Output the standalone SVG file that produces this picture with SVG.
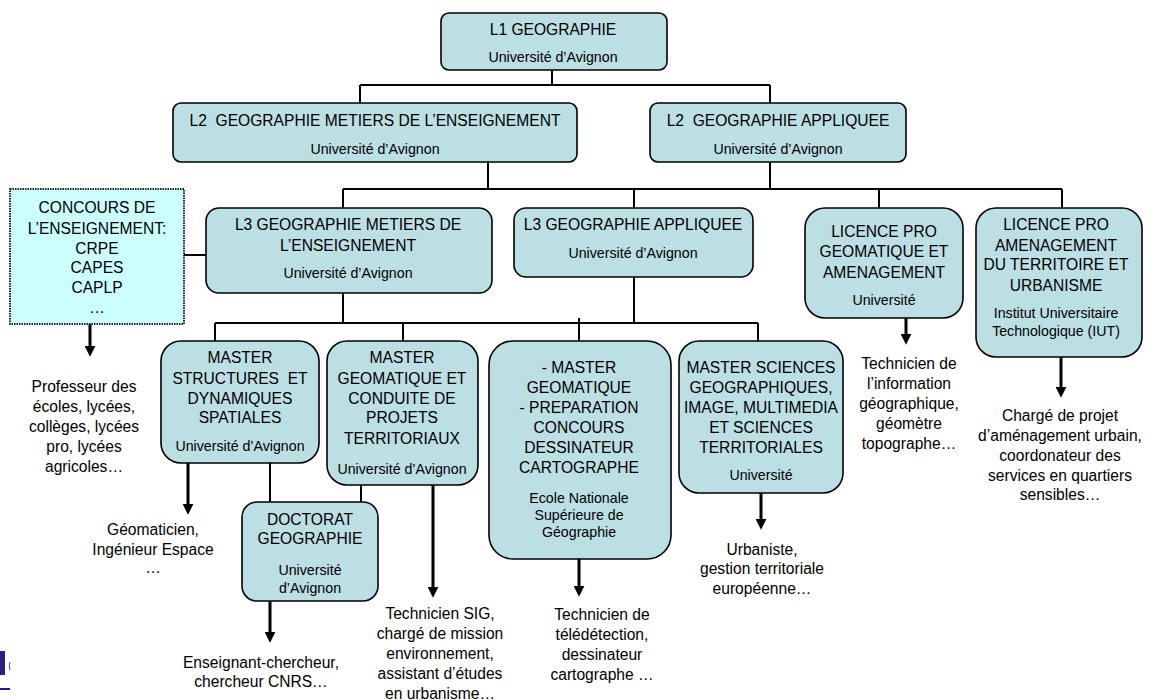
<svg xmlns="http://www.w3.org/2000/svg" width="1151" height="700" viewBox="0 0 1151 700">
<style>
.box{fill:#bbdfe3;stroke:#000;stroke-width:1.6}
.dot{fill:#ccffff;stroke:#222;stroke-width:2;stroke-dasharray:1.5 1}
text{font-family:"Liberation Sans",Arial,sans-serif;fill:#000;text-anchor:middle}
.t{font-size:15.6px}
.s{font-size:14.2px}
.c{fill:none;stroke:#000;stroke-width:2}
.a{fill:none;stroke:#000;stroke-width:3;marker-end:url(#ah)}
</style>
<defs>
<marker id="ah" viewBox="0 0 10 10" refX="2" refY="5" markerWidth="11" markerHeight="11" markerUnits="userSpaceOnUse" orient="auto">
<path d="M0,0 L10,5 L0,10 z" fill="#000"/>
</marker>
</defs>
<rect width="1151" height="700" fill="#fff"/>

<g id="connectors">
<path class="c" d="M552,70 V85 M360,85 H770 M360,85 V103 M770,85 V103"/>
<path class="c" d="M488,162 V189 M770,162 V189 M343,189 H1062 M343,189 V208 M634,189 V208 M879,189 V208 M1062,189 V208"/>
<path class="c" d="M184,255 H206"/>
<path class="c" d="M343,293 V323 M634,277 V323 M215,323 H758 M215,323 V341 M403,323 V341 M579,318 V341 M758,323 V341"/>
<path class="c" d="M270,463 V502 M361,485 V502"/>
<path class="a" d="M90,324 V348"/>
<path class="a" d="M906,318 V336"/>
<path class="a" d="M1061,357 V389"/>
<path class="a" d="M188,463 V506"/>
<path class="a" d="M433,485 V589"/>
<path class="a" d="M270,601 V634"/>
<path class="a" d="M579,559 V588"/>
<path class="a" d="M761,493 V521"/>
</g>

<g id="l1">
<rect class="box" x="441" y="13" width="226" height="57" rx="8"/>
<text class="t" x="553" y="35">L1 GEOGRAPHIE</text>
<text class="s" x="553" y="62">Université d’Avignon</text>
</g>

<g id="l2-ens">
<rect class="box" x="173" y="103" width="404" height="59" rx="8"/>
<text class="t" x="375" y="126" xml:space="preserve">L2  GEOGRAPHIE METIERS DE L’ENSEIGNEMENT</text>
<text class="s" x="375" y="154">Université d’Avignon</text>
</g>

<g id="l2-app">
<rect class="box" x="650" y="103" width="256" height="59" rx="8"/>
<text class="t" x="778" y="126" xml:space="preserve">L2  GEOGRAPHIE APPLIQUEE</text>
<text class="s" x="778" y="154">Université d’Avignon</text>
</g>

<g id="concours">
<rect class="dot" x="10" y="189" width="174" height="135"/>
<text class="t" x="97" y="213">CONCOURS DE</text>
<text class="t" x="97" y="234">L’ENSEIGNEMENT:</text>
<text class="t" x="97" y="254">CRPE</text>
<text class="t" x="97" y="273">CAPES</text>
<text class="t" x="97" y="293">CAPLP</text>
<text class="t" x="97" y="313">…</text>
</g>

<g id="l3-ens">
<rect class="box" x="206" y="208" width="286" height="85" rx="13"/>
<text class="t" x="348" y="230">L3 GEOGRAPHIE METIERS DE</text>
<text class="t" x="348" y="251">L’ENSEIGNEMENT</text>
<text class="s" x="348" y="278">Université d’Avignon</text>
</g>

<g id="l3-app">
<rect class="box" x="514" y="208" width="239" height="69" rx="12"/>
<text class="t" x="633" y="230">L3 GEOGRAPHIE APPLIQUEE</text>
<text class="s" x="633" y="258">Université d’Avignon</text>
</g>

<g id="lp-geom">
<rect class="box" x="805" y="208" width="158" height="110" rx="20"/>
<text class="t" x="884" y="237">LICENCE PRO</text>
<text class="t" x="884" y="257">GEOMATIQUE ET</text>
<text class="t" x="884" y="278">AMENAGEMENT</text>
<text class="s" x="884" y="305">Université</text>
</g>

<g id="lp-amen">
<rect class="box" x="976" y="208" width="166" height="149" rx="20"/>
<text class="t" x="1056" y="230">LICENCE PRO</text>
<text class="t" x="1056" y="251">AMENAGEMENT</text>
<text class="t" x="1056" y="270">DU TERRITOIRE ET</text>
<text class="t" x="1056" y="291">URBANISME</text>
<text class="s" x="1056" y="318">Institut Universitaire</text>
<text class="s" x="1056" y="336">Technologique (IUT)</text>
</g>

<g id="m-structures">
<rect class="box" x="161" y="341" width="158" height="122" rx="20"/>
<text class="t" x="240" y="363">MASTER</text>
<text class="t" x="240" y="384" xml:space="preserve">STRUCTURES  ET</text>
<text class="t" x="240" y="404">DYNAMIQUES</text>
<text class="t" x="240" y="423">SPATIALES</text>
<text class="s" x="240" y="451">Université d’Avignon</text>
</g>

<g id="m-geom">
<rect class="box" x="327" y="341" width="151" height="144" rx="20"/>
<text class="t" x="402" y="363">MASTER</text>
<text class="t" x="402" y="384">GEOMATIQUE ET</text>
<text class="t" x="402" y="404">CONDUITE DE</text>
<text class="t" x="402" y="423">PROJETS</text>
<text class="t" x="402" y="444">TERRITORIAUX</text>
<text class="s" x="402" y="474">Université d’Avignon</text>
</g>

<g id="doctorat">
<rect class="box" x="242" y="502" width="136" height="99" rx="15"/>
<text class="t" x="310" y="525">DOCTORAT</text>
<text class="t" x="310" y="544">GEOGRAPHIE</text>
<text class="s" x="310" y="575">Université</text>
<text class="s" x="310" y="593">d’Avignon</text>
</g>

<g id="m-ensg">
<rect class="box" x="489" y="341" width="182" height="218" rx="24"/>
<text class="t" x="579" y="373">- MASTER</text>
<text class="t" x="579" y="393">GEOMATIQUE</text>
<text class="t" x="579" y="413">- PREPARATION</text>
<text class="t" x="579" y="433">CONCOURS</text>
<text class="t" x="579" y="453">DESSINATEUR</text>
<text class="t" x="579" y="473">CARTOGRAPHE</text>
<text class="s" x="579" y="503">Ecole Nationale</text>
<text class="s" x="579" y="520">Supérieure de</text>
<text class="s" x="579" y="537">Géographie</text>
</g>

<g id="m-sciences">
<rect class="box" x="679" y="341" width="164" height="152" rx="20"/>
<text class="t" x="761" y="373">MASTER SCIENCES</text>
<text class="t" x="761" y="393">GEOGRAPHIQUES,</text>
<text class="t" x="761" y="413">IMAGE, MULTIMEDIA</text>
<text class="t" x="761" y="433">ET SCIENCES</text>
<text class="t" x="761" y="453">TERRITORIALES</text>
<text class="s" x="761" y="480">Université</text>
</g>

<g id="out-prof">
<text class="t" x="84" y="392">Professeur des</text>
<text class="t" x="84" y="412">écoles, lycées,</text>
<text class="t" x="84" y="432">collèges, lycées</text>
<text class="t" x="84" y="452">pro, lycées</text>
<text class="t" x="84" y="472">agricoles…</text>
</g>

<g id="out-geomaticien">
<text class="t" x="153" y="535">Géomaticien,</text>
<text class="t" x="153" y="555">Ingénieur Espace</text>
<text class="t" x="153" y="573">…</text>
</g>

<g id="out-enseignant">
<text class="t" x="261" y="668">Enseignant-chercheur,</text>
<text class="t" x="261" y="687">chercheur CNRS…</text>
</g>

<g id="out-sig">
<text class="t" x="440" y="619">Technicien SIG,</text>
<text class="t" x="440" y="639">chargé de mission</text>
<text class="t" x="440" y="659">environnement,</text>
<text class="t" x="440" y="679">assistant d’études</text>
<text class="t" x="440" y="699">en urbanisme…</text>
</g>

<g id="out-teledetection">
<text class="t" x="602" y="620">Technicien de</text>
<text class="t" x="602" y="640">télédétection,</text>
<text class="t" x="602" y="660">dessinateur</text>
<text class="t" x="602" y="680">cartographe …</text>
</g>

<g id="out-urbaniste">
<text class="t" x="762" y="555">Urbaniste,</text>
<text class="t" x="762" y="574">gestion territoriale</text>
<text class="t" x="762" y="594">européenne…</text>
</g>

<g id="out-info">
<text class="t" x="909" y="369">Technicien de</text>
<text class="t" x="909" y="389">l’information</text>
<text class="t" x="909" y="409">géographique,</text>
<text class="t" x="909" y="429">géomètre</text>
<text class="t" x="909" y="449">topographe…</text>
</g>

<g id="out-charge">
<text class="t" x="1060" y="421">Chargé de projet</text>
<text class="t" x="1060" y="441">d’aménagement urbain,</text>
<text class="t" x="1060" y="461">coordonateur des</text>
<text class="t" x="1060" y="481">services en quartiers</text>
<text class="t" x="1060" y="500">sensibles…</text>
</g>

<g id="corner-mark">
<rect x="0" y="651" width="5" height="24" fill="#2a2180"/>
<path d="M10,662 Q8.5,666 10,670" fill="none" stroke="#6a66a8" stroke-width="1.2"/>
<rect x="0" y="688" width="10" height="2" fill="#1a1a8a"/>
</g>
</svg>
